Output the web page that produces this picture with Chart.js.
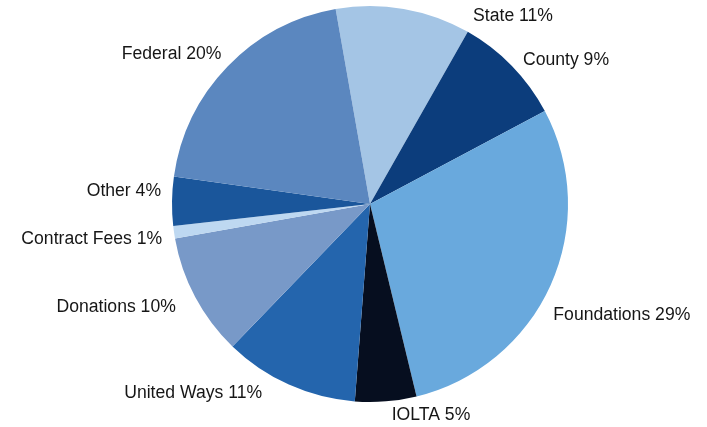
<!DOCTYPE html>
<html>
<head>
<meta charset="utf-8">
<script src="https://cdn.jsdelivr.net/npm/chart.js@4/dist/chart.umd.min.js"></script>
<style>
  html, body { margin: 0; padding: 0; background: #ffffff; }
  #wrap { width: 707px; height: 427px; position: relative; }
</style>
</head>
<body>
<div id="wrap"><canvas id="c" width="707" height="427"></canvas></div>
<script>
// ---- Data ----
const categories = ["State", "County", "Foundations", "IOLTA", "United Ways", "Donations", "Contract Fees", "Other", "Federal"];
const shares = [11, 9, 29, 5, 11, 10, 1, 4, 20];

// ---- Styles ----
const sliceColors = ["#a4c5e5", "#0c3d7c", "#69a9dd", "#060e1f", "#2465ad", "#7899c8", "#bed8f1", "#1a569b", "#5b87bf"];
// label nudges [dx, dy] from anchor point on the slice's mid-angle, and alignment
const labelNudge = [[67, 21], [1, 4], [-10, 24], [44, 0], [-21, -4], [-7, 4], [2, 5], [3, -10], [4, -3]];
const labelAlign = ["left", "left", "left", "center", "right", "right", "right", "right", "right"];

const labelPlugin = {
  id: "sliceLabels",
  afterDatasetsDraw(chart) {
    const ctx = chart.ctx;
    const meta = chart.getDatasetMeta(0);
    ctx.save();
    ctx.font = "17.6px 'Liberation Sans', Arial, sans-serif";
    ctx.fillStyle = "#161616";
    ctx.textBaseline = "middle";
    meta.data.forEach((arc, i) => {
      const p = arc.getProps(["x", "y", "startAngle", "endAngle", "outerRadius"], true);
      const mid = (p.startAngle + p.endAngle) / 2;
      const r = p.outerRadius + 14;
      const ax = p.x + Math.cos(mid) * r + labelNudge[i][0];
      const ay = p.y + Math.sin(mid) * r + labelNudge[i][1];
      ctx.textAlign = labelAlign[i];
      ctx.fillText(categories[i] + " " + shares[i] + "%", ax, ay);
    });
    ctx.restore();
  }
};

new Chart(document.getElementById("c"), {
  type: "pie",
  data: {
    labels: categories,
    datasets: [{
      data: shares,
      backgroundColor: sliceColors,
      borderWidth: 0
    }]
  },
  options: {
    responsive: false,
    animation: false,
    rotation: -10,
    layout: { padding: { left: 172, right: 139, top: 6, bottom: 25 } },
    plugins: { legend: { display: false }, tooltip: { enabled: false } }
  },
  plugins: [labelPlugin]
});
</script>
</body>
</html>
